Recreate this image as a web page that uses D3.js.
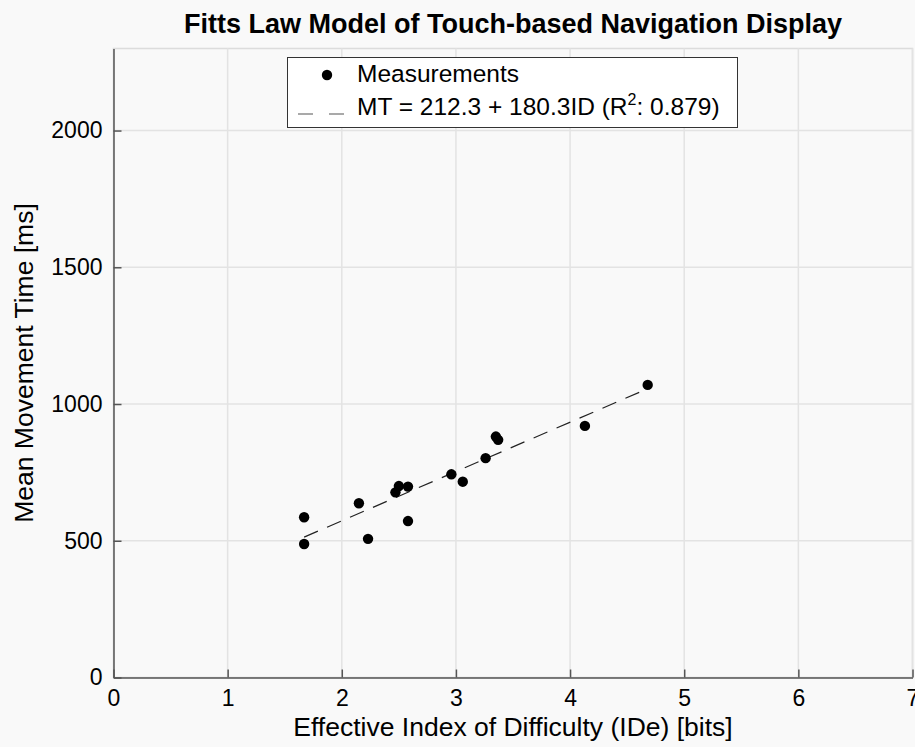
<!DOCTYPE html>
<html>
<head>
<meta charset="utf-8">
<script src="https://cdn.jsdelivr.net/npm/d3@7"></script>
<style>
  body { margin: 0; background: #f9f9f9; }
  text { font-family: "Liberation Sans", Arial, Helvetica, sans-serif; fill: #000; }
</style>
</head>
<body>
<svg id="chart" width="915" height="747"></svg>
<script>
let ide = [1.67, 1.67, 2.15, 2.23, 2.58, 2.47, 2.50, 2.58, 2.96, 3.06, 3.26, 3.35, 3.37, 4.13, 4.68];
let mt  = [586, 488, 637, 507, 572, 677, 700, 698, 743, 716, 802, 881, 869, 920, 1070];

// fitted model from the legend
let fit_intercept = 212.3;
let fit_slope = 180.3;
let fit_range = [1.67, 4.68];

let x_ticks = [0, 1, 2, 3, 4, 5, 6, 7];
let y_ticks = [0, 500, 1000, 1500, 2000];

let svg = d3.select('#chart');

let plot_left = 113.5, plot_right = 912.5, plot_top = 48.5, plot_bottom = 677.5;

let x = d3.scaleLinear().domain([0, 7]).range([plot_left, plot_right]);
let y = d3.scaleLinear().domain([0, 2300]).range([plot_bottom, plot_top]);

/*
 * Plot area and grid.
 */
svg.append('rect')
  .attr('x', plot_left).attr('y', plot_top)
  .attr('width', plot_right - plot_left).attr('height', plot_bottom - plot_top)
  .style('fill', '#f9f9f9')
  .style('stroke', '#dcdcdc')
  .style('stroke-width', 1.5);

svg.append('g')
  .selectAll('line')
  .data(x_ticks.slice(1))
  .join('line')
  .attr('x1', d => x(d)).attr('x2', d => x(d))
  .attr('y1', plot_top).attr('y2', plot_bottom)
  .style('stroke', '#e3e3e3')
  .style('stroke-width', 1.5);

svg.append('g')
  .selectAll('line')
  .data(y_ticks.slice(1))
  .join('line')
  .attr('x1', plot_left).attr('x2', plot_right)
  .attr('y1', d => y(d)).attr('y2', d => y(d))
  .style('stroke', '#e3e3e3')
  .style('stroke-width', 1.5);

/*
 * Axes, ticks pointing inward.
 */
let x_axis = svg.append('g')
  .attr('transform', `translate(0,${plot_bottom})`)
  .call(d3.axisBottom(x).tickValues(x_ticks).tickFormat(d => d)
    .tickSizeInner(-8).tickSizeOuter(0).tickPadding(12));

let y_axis = svg.append('g')
  .attr('transform', `translate(${plot_left},0)`)
  .call(d3.axisLeft(y).tickValues(y_ticks).tickFormat(d => d)
    .tickSizeInner(-8).tickSizeOuter(0).tickPadding(11));

[x_axis, y_axis].forEach(ax => {
  ax.select('.domain').style('stroke', '#555').style('stroke-width', 1.5);
  ax.selectAll('.tick line').style('stroke', '#555').style('stroke-width', 1.5);
  ax.selectAll('.tick text')
    .style('font-family', '"Liberation Sans", Arial, sans-serif')
    .style('font-size', '23px')
    .style('fill', '#000');
});

/*
 * Fit line and measurements.
 */
let fit_line = d3.line()
  .x(d => x(d))
  .y(d => y(fit_intercept + fit_slope * d));

svg.append('path')
  .datum(fit_range)
  .attr('d', fit_line)
  .style('fill', 'none')
  .style('stroke', '#222')
  .style('stroke-width', 1.2)
  .style('stroke-dasharray', '15,10');

svg.append('g')
  .selectAll('circle')
  .data(ide.map((v, i) => [v, mt[i]]))
  .join('circle')
  .attr('cx', d => x(d[0]))
  .attr('cy', d => y(d[1]))
  .attr('r', 5.2)
  .style('fill', '#000');

/*
 * Labels.
 */
svg.append('text')
  .attr('x', (plot_left + plot_right) / 2)
  .attr('y', 33)
  .attr('text-anchor', 'middle')
  .style('font-size', '27px')
  .style('font-weight', 'bold')
  .text('Fitts Law Model of Touch-based Navigation Display');

svg.append('text')
  .attr('x', (plot_left + plot_right) / 2)
  .attr('y', 736)
  .attr('text-anchor', 'middle')
  .style('font-size', '26.5px')
  .text('Effective Index of Difficulty (IDe) [bits]');

svg.append('text')
  .attr('transform', `translate(33,${(plot_top + plot_bottom) / 2}) rotate(-90)`)
  .attr('text-anchor', 'middle')
  .style('font-size', '26.5px')
  .text('Mean Movement Time [ms]');

/*
 * Legend.
 */
let legend = svg.append('g');

legend.append('rect')
  .attr('x', 287.5).attr('y', 57.5)
  .attr('width', 450).attr('height', 70)
  .style('fill', '#fff')
  .style('stroke', '#333')
  .style('stroke-width', 1);

legend.append('circle')
  .attr('cx', 327).attr('cy', 75)
  .attr('r', 5.2)
  .style('fill', '#000');

legend.append('line')
  .attr('x1', 298).attr('x2', 344)
  .attr('y1', 114).attr('y2', 114)
  .style('stroke', '#555')
  .style('stroke-width', 1.2)
  .style('stroke-dasharray', '15,16');

legend.append('text')
  .attr('x', 357).attr('y', 82)
  .style('font-size', '24.5px')
  .text('Measurements');

let fit_text = legend.append('text')
  .attr('x', 357).attr('y', 115)
  .style('font-size', '24.5px');
fit_text.append('tspan').text(`MT = ${fit_intercept} + ${fit_slope}ID (R`);
fit_text.append('tspan').attr('dy', -10).style('font-size', '16px').text('2');
fit_text.append('tspan').attr('dy', 10).text(': 0.879)');
</script>
</body>
</html>
